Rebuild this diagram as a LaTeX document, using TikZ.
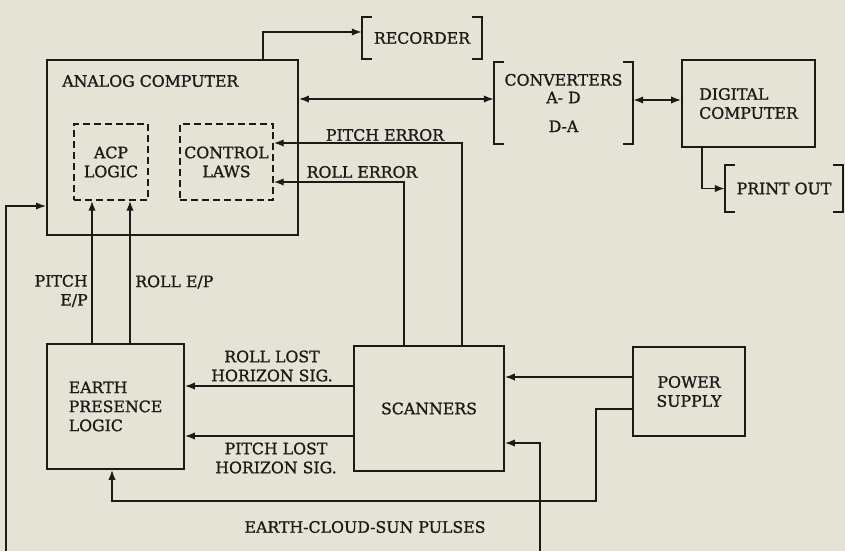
\documentclass[tikz,border=0pt]{standalone}
\usepackage{fontspec}
\setmainfont[FakeBold=1.2]{DejaVu Serif}
\usetikzlibrary{positioning, calc, arrows.meta}
\definecolor{paper}{RGB}{229,227,214}
\definecolor{ink}{RGB}{28,26,24}
\tikzset{
    block node/.style={rectangle, draw=ink, line width=1.4pt, inner sep=0pt, font=\fontsize{11.2}{13.5}\selectfont, text=ink},
    dashed node/.style={rectangle, draw=ink, line width=1.2pt, dash pattern=on 5pt off 2.8pt, inner sep=0pt, font=\fontsize{11.2}{13.5}\selectfont, text=ink},
    bracket node/.style={rectangle, inner sep=0pt, font=\fontsize{11.2}{13.5}\selectfont, text=ink},
    bracket line/.style={draw=ink, line width=1.2pt},
    signal/.style={draw=ink, line width=1pt, -{Latex[length=7pt,width=5.2pt]}},
    both signal/.style={draw=ink, line width=1pt, {Latex[length=7pt,width=5.2pt]}-{Latex[length=7pt,width=5.2pt]}},
    edge label/.style={font=\fontsize{11.2}{13.5}\selectfont, text=ink, inner sep=0pt},
}

\begin{document}
\begin{tikzpicture}[x=0.025cm, y=-0.025cm]
    \fill[paper] (0,0) rectangle (845,551);
    \useasboundingbox (0,0) rectangle (845,551);

    % blocks
    \node[block node, minimum width=6.275cm, minimum height=4.375cm] (analog) at (172.5,147.5) {};
    \node[edge label, anchor=west] (analogtitle) at (62,81) {ANALOG COMPUTER};
    \node[dashed node, minimum width=1.85cm, minimum height=1.9cm, align=center] (acp) at (111,162) {ACP\\LOGIC};
    \node[dashed node, minimum width=2.325cm, minimum height=1.9cm, align=center] (laws) at (226.5,162) {CONTROL\\LAWS};
    \node[bracket node, minimum width=3cm, minimum height=1.05cm] (rec) at (422,38) {RECORDER};
    \node[bracket node, minimum width=3.475cm, minimum height=2.05cm, align=center] (conv) at (563.5,103) {CONVERTERS\\[-1pt]A- D\\[7pt]D-A};
    \node[block node, minimum width=3.325cm, minimum height=2.175cm, align=left] (digital) at (748.5,103.5) {DIGITAL\\COMPUTER};
    \node[bracket node, minimum width=2.95cm, minimum height=1.175cm] (prn) at (784,188.5) {PRINT OUT};
    \node[block node, minimum width=3.425cm, minimum height=3.125cm, align=left] (earth) at (115.5,406.5) {EARTH\\PRESENCE\\LOGIC};
    \node[block node, minimum width=3.75cm, minimum height=3.125cm] (scan) at (429,408.5) {SCANNERS};
    \node[block node, minimum width=2.8cm, minimum height=2.225cm, align=center] (power) at (689,391.5) {POWER\\SUPPLY};

    % brackets
    \foreach \b in {rec, conv, prn} {
        \draw[bracket line] ([xshift=0.25cm]\b.north west) -- (\b.north west) -- (\b.south west) -- ([xshift=0.25cm]\b.south west);
        \draw[bracket line] ([xshift=-0.25cm]\b.north east) -- (\b.north east) -- (\b.south east) -- ([xshift=-0.25cm]\b.south east);
    }

    \coordinate (pulseleft) at (6,551);
    \coordinate (pulseright) at (540,551);

    % connectors
    \draw[signal] (analog.north -| 263,0) |- (rec.west |- 0,32);
    \draw[both signal] (analog.east |- 0,99) -- (conv.west |- 0,99);
    \draw[both signal] (conv.east |- 0,100) -- (digital.west |- 0,100);
    \draw[signal] (digital.south -| 702,0) |- (prn.west);
    \draw[signal] (scan.north -| 462,0) |- (laws.east |- 0,143);
    \draw[signal] (scan.north -| 404,0) |- (laws.east |- 0,182);
    \draw[signal] (earth.north -| 92,0) -- (acp.south -| 92,0);
    \draw[signal] (earth.north -| 130,0) -- (acp.south -| 130,0);
    \draw[signal] (pulseleft) |- (analog.west |- 0,206);
    \draw[signal] (scan.west |- 0,386) -- (earth.east |- 0,386);
    \draw[signal] (scan.west |- 0,436) -- (earth.east |- 0,436);
    \draw[signal] (power.west |- 0,377) -- (scan.east |- 0,377);
    \draw[signal] (power.west |- 0,409) -| (596,501) -| (earth.south -| 112,0);
    \draw[signal] (pulseright) |- (scan.east |- 0,443);

    % labels
    \node[edge label] (pitcherr) at (385,135) {PITCH ERROR};
    \node[edge label] (rollerr) at (362,172) {ROLL ERROR};
    \node[edge label, anchor=east, align=right] (pitchep) at (88,291) {PITCH\\E/P};
    \node[edge label, anchor=west] (rollep) at (135,282) {ROLL E/P};
    \node[edge label, align=center] (rolllost) at (272,366) {ROLL LOST\\HORIZON SIG.};
    \node[edge label, align=center] (pitchlost) at (276,458) {PITCH LOST\\HORIZON SIG.};
    \node[edge label] (pulses) at (365,527) {EARTH-CLOUD-SUN PULSES};
\end{tikzpicture}
\end{document}
